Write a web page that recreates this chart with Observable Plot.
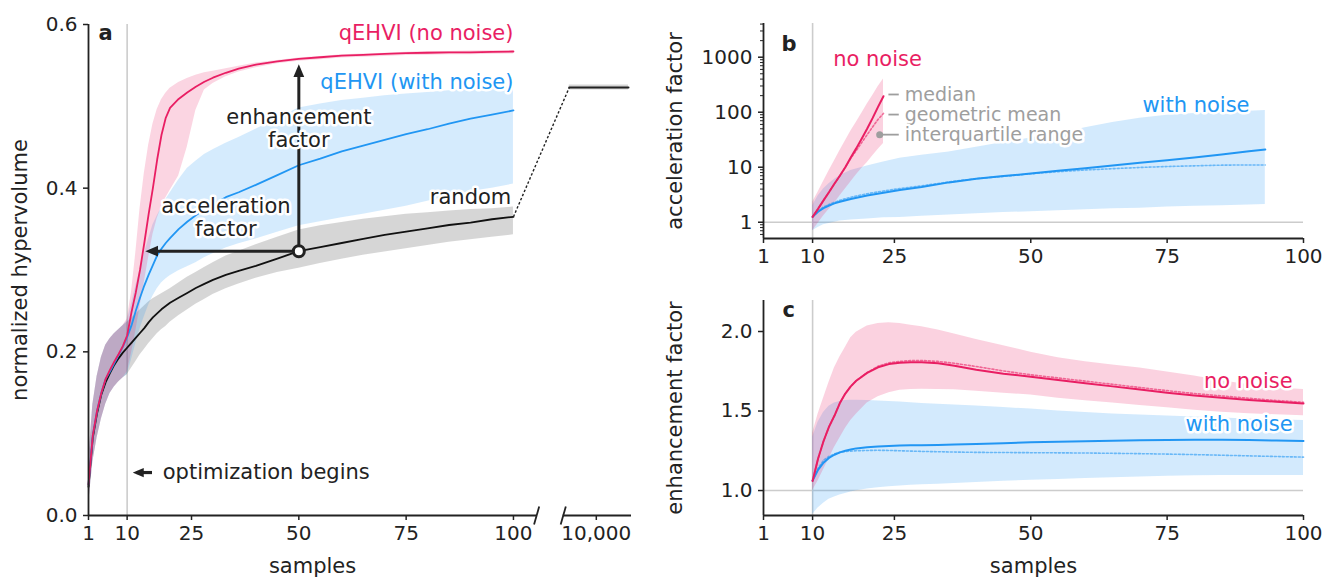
<!DOCTYPE html>
<html><head><meta charset="utf-8">
<script src="https://cdn.jsdelivr.net/npm/d3@7"></script>
<script src="https://cdn.jsdelivr.net/npm/@observablehq/plot@0.6"></script>
<style>
body{margin:0;background:#fff;}
#fig{position:relative;width:1328px;height:578px;overflow:hidden;font-family:"DejaVu Sans",sans-serif;}
</style></head><body><div id="fig"></div>
<script>
// ---------- Panel a data (normalized hypervolume vs samples) ----------
const aSamples = [1,2,3,4,5,6,7,8,9,10,11,12,13,14,15,16,17,18,19,20,22,24,26,28,30,33,36,40,45,50,55,60,65,70,75,80,85,90,95,100];
const randomMed = [0.035,0.095,0.125,0.148,0.163,0.174,0.184,0.192,0.199,0.205,0.211,0.217,0.223,0.229,0.236,0.242,0.247,0.252,0.256,0.260,0.266,0.272,0.278,0.283,0.288,0.294,0.299,0.305,0.314,0.323,0.328,0.333,0.338,0.343,0.347,0.351,0.355,0.358,0.362,0.365];
const randomLo = [0.012,0.065,0.095,0.118,0.136,0.149,0.157,0.163,0.168,0.172,0.180,0.188,0.196,0.203,0.210,0.216,0.222,0.227,0.231,0.236,0.244,0.251,0.258,0.264,0.270,0.277,0.283,0.290,0.297,0.302,0.308,0.313,0.318,0.322,0.326,0.330,0.334,0.337,0.340,0.343];
const randomHi = [0.065,0.135,0.170,0.193,0.208,0.216,0.222,0.227,0.232,0.236,0.241,0.246,0.251,0.256,0.261,0.265,0.268,0.271,0.274,0.277,0.284,0.291,0.297,0.303,0.309,0.317,0.323,0.331,0.340,0.349,0.354,0.358,0.362,0.365,0.368,0.370,0.372,0.374,0.375,0.377];
const noNoiseMed = [0.038,0.098,0.128,0.150,0.167,0.178,0.188,0.197,0.207,0.220,0.248,0.272,0.300,0.333,0.368,0.400,0.435,0.465,0.486,0.498,0.509,0.517,0.524,0.530,0.535,0.541,0.546,0.551,0.555,0.558,0.560,0.562,0.563,0.564,0.565,0.5655,0.566,0.566,0.5665,0.567];
const noNoiseLo = [0.012,0.065,0.095,0.118,0.136,0.149,0.157,0.163,0.168,0.175,0.198,0.225,0.255,0.285,0.315,0.343,0.363,0.377,0.388,0.397,0.415,0.450,0.495,0.520,0.528,0.536,0.542,0.547,0.552,0.555,0.557,0.559,0.560,0.561,0.562,0.5625,0.563,0.563,0.5635,0.564];
const noNoiseHi = [0.065,0.135,0.170,0.193,0.208,0.216,0.222,0.227,0.232,0.240,0.272,0.320,0.375,0.418,0.452,0.478,0.496,0.508,0.516,0.522,0.529,0.534,0.538,0.541,0.543,0.546,0.549,0.553,0.556,0.559,0.561,0.563,0.564,0.565,0.566,0.567,0.567,0.5675,0.568,0.568];
const withNoiseMed = [0.038,0.098,0.128,0.150,0.167,0.176,0.186,0.196,0.206,0.218,0.232,0.250,0.266,0.281,0.294,0.306,0.318,0.326,0.333,0.339,0.350,0.359,0.367,0.374,0.380,0.389,0.395,0.404,0.416,0.428,0.436,0.445,0.452,0.459,0.466,0.472,0.479,0.485,0.490,0.495];
const withNoiseLo = [0.012,0.065,0.095,0.118,0.136,0.149,0.157,0.163,0.168,0.172,0.190,0.210,0.228,0.243,0.257,0.268,0.277,0.284,0.289,0.293,0.299,0.304,0.309,0.315,0.320,0.327,0.332,0.338,0.346,0.354,0.359,0.364,0.368,0.373,0.378,0.384,0.390,0.396,0.400,0.405];
const withNoiseHi = [0.065,0.135,0.170,0.193,0.208,0.216,0.222,0.227,0.232,0.238,0.258,0.280,0.300,0.320,0.338,0.355,0.366,0.376,0.386,0.394,0.410,0.424,0.433,0.441,0.447,0.455,0.462,0.472,0.485,0.498,0.503,0.507,0.510,0.513,0.515,0.517,0.519,0.521,0.522,0.524];
// random search after 10,000 samples
const random10k = {samples: 10000, med: 0.523, lo: 0.520, hi: 0.526};
const aXTicks = [1,10,25,50,75,100];
const aYTicks = [0,0.2,0.4,0.6];

// ---------- Panel b data (acceleration factor) ----------
const bNoSamples = [10,11,12,13,14,15,16,17,18,19,20,21,22,23];
const bNoMed = [1.25,1.75,2.5,3.5,5,7,10,15,22,33,50,78,125,195];
const bNoGeo = [1.25,1.75,2.5,3.5,5,7,10,14.5,20,28,39,54,74,95];
const bNoLo = [0.7,0.95,1.3,1.7,2.2,3,4,5.4,7.2,9.5,12,16,21,27];
const bNoHi = [2.3,3.5,5.5,8.5,13,20,30,45,65,95,140,200,290,400];
const bWithSamples = [10,11,12,13,14,15,17,20,23,26,30,35,40,45,50,55,60,65,70,75,80,85,90,93];
const bWithMed = [1.25,1.55,1.8,2.0,2.2,2.35,2.65,3.05,3.45,3.85,4.35,5.3,6.2,6.9,7.7,8.6,9.6,10.7,12.1,13.4,15,17,19.5,21];
const bWithGeo = [1.25,1.6,1.9,2.1,2.3,2.5,2.85,3.3,3.7,4.1,4.6,5.4,6.2,6.8,7.6,8.3,8.9,9.4,9.9,10.3,10.6,10.9,11,11];
const bWithLo = [0.7,0.8,0.9,0.95,1.0,1.05,1.1,1.15,1.2,1.22,1.28,1.35,1.42,1.5,1.55,1.62,1.68,1.75,1.8,1.9,1.95,2.0,2.05,2.1];
const bWithHi = [2.0,3.0,4.0,5.0,6.0,7.0,8.7,10.5,12.5,14.5,16.5,19,23,28,34,41,52,65,78,88,95,100,104,107];
const bYTicks = [1,10,100,1000];
const bYMinor = [0.6,0.7,0.8,0.9,2,3,4,5,6,7,8,9,20,30,40,50,60,70,80,90,200,300,400,500,600,700,800,900,2000,3000,4000];
const bcXTicks = [1,10,25,50,75,100];
const bLegendLabels = ["median", "geometric mean", "interquartile range"];

// ---------- Panel c data (enhancement factor) ----------
const cSamples = [10,11,12,13,14,15,16,17,18,20,22,24,26,28,30,33,36,40,45,50,55,60,65,70,75,80,85,90,95,100];
const cNoMed = [1.06,1.2,1.31,1.4,1.47,1.55,1.61,1.655,1.69,1.74,1.775,1.795,1.803,1.807,1.806,1.8,1.785,1.76,1.735,1.715,1.695,1.675,1.655,1.636,1.615,1.598,1.584,1.57,1.558,1.547];
const cNoGeo = [1.06,1.2,1.31,1.4,1.47,1.55,1.61,1.655,1.69,1.742,1.782,1.803,1.812,1.817,1.818,1.812,1.8,1.78,1.752,1.728,1.708,1.688,1.668,1.648,1.628,1.61,1.595,1.58,1.566,1.555];
const cNoLo = [1.0,1.06,1.13,1.2,1.27,1.33,1.39,1.44,1.48,1.55,1.59,1.615,1.63,1.635,1.637,1.636,1.633,1.625,1.612,1.6,1.58,1.565,1.55,1.535,1.52,1.505,1.493,1.483,1.476,1.47];
const cNoHi = [1.36,1.48,1.58,1.68,1.77,1.84,1.9,1.96,1.995,2.035,2.05,2.055,2.05,2.04,2.03,2.01,1.985,1.95,1.91,1.87,1.835,1.81,1.79,1.77,1.745,1.72,1.69,1.665,1.645,1.635];
const cWithMed = [1.063,1.13,1.175,1.205,1.225,1.24,1.25,1.258,1.265,1.272,1.277,1.28,1.283,1.284,1.285,1.287,1.289,1.293,1.298,1.303,1.306,1.31,1.313,1.316,1.318,1.319,1.319,1.317,1.314,1.311];
const cWithGeo = [1.063,1.14,1.19,1.215,1.23,1.24,1.245,1.248,1.25,1.252,1.253,1.252,1.25,1.248,1.246,1.244,1.242,1.24,1.239,1.238,1.237,1.236,1.234,1.232,1.229,1.226,1.222,1.218,1.214,1.21];
const cWithLo = [0.85,0.89,0.92,0.945,0.96,0.972,0.982,0.99,0.998,1.01,1.018,1.024,1.029,1.033,1.037,1.04,1.044,1.05,1.058,1.065,1.07,1.076,1.081,1.085,1.09,1.093,1.094,1.095,1.095,1.095];
const cWithHi = [1.335,1.43,1.49,1.53,1.55,1.56,1.566,1.568,1.568,1.566,1.563,1.56,1.556,1.552,1.548,1.543,1.538,1.532,1.522,1.512,1.5,1.49,1.482,1.475,1.468,1.462,1.456,1.45,1.445,1.44];
const cYTicks = [1.0,1.5,2.0];

// ---------- styling ----------
const RED = "#e91e63", BLUE = "#2196f3", DARK = "#222222", REF = "#cccccc", LEG = "#9e9e9e";
const FONT = "'DejaVu Sans', sans-serif";
const TXT = 21, TICKF = 20, LEGF = 19;
const halo = {stroke: "white", strokeWidth: 5, strokeLinejoin: "round"};
const baseStyle = {fontFamily: FONT, fontSize: TXT + "px", color: DARK, background: "transparent", overflow: "visible"};
const axisOpts = {tickSize: 5, strokeWidth: 1.5, fontSize: TICKF, label: null};
const fig = document.getElementById("fig");
function put(svg, left, top) {
  svg.style.position = "absolute";
  svg.style.left = left + "px";
  svg.style.top = top + "px";
  fig.appendChild(svg);
}
const zipRows = (xs, cols) => xs.map((s, i) => {
  const r = {s};
  for (const k in cols) r[k] = cols[k][i];
  return r;
});
function crossing(xs, ys, target) {
  for (let i = 1; i < xs.length; i++) if (ys[i] >= target) {
    const t = (target - ys[i-1]) / (ys[i] - ys[i-1]);
    return xs[i-1] + t * (xs[i] - xs[i-1]);
  }
  return xs[xs.length - 1];
}
// filled triangular arrowhead marker
function triangleHead(size) {
  return (color, context) => {
    const doc = (context && context.document) || document;
    const ns = "http://www.w3.org/2000/svg";
    const m = doc.createElementNS(ns, "marker");
    m.setAttribute("viewBox", "-5 -5 10 10");
    m.setAttribute("markerWidth", size);
    m.setAttribute("markerHeight", size);
    m.setAttribute("markerUnits", "userSpaceOnUse");
    m.setAttribute("orient", "auto");
    m.setAttribute("refX", "1.5");
    m.setAttribute("refY", "0");
    const p = doc.createElementNS(ns, "path");
    p.setAttribute("d", "M-5,-4.2L5,0L-5,4.2Z");
    p.setAttribute("fill", color);
    p.setAttribute("stroke", "none");
    m.appendChild(p);
    return m;
  };
}
function arrowMarks(data, opts, useMarker) {
  if (useMarker) return Plot.link(data, {x1: "x1", y1: "y1", x2: "x2", y2: "y2", stroke: DARK, strokeWidth: opts.w, markerEnd: triangleHead(opts.head)});
  return Plot.arrow(data, {x1: "x1", y1: "y1", x2: "x2", y2: "y2", stroke: DARK, strokeWidth: opts.w, headLength: 8});
}

// ---------- Panel a ----------
function panelA(useMarker) {
  const brk = {seg1End: 105.4, seg2Start: 111.6, seg2End: 127.5, tenK: 119.3};
  const rows = zipRows(aSamples, {rm: randomMed, rl: randomLo, rh: randomHi, nm: noNoiseMed, nl: noNoiseLo, nh: noNoiseHi, wm: withNoiseMed, wl: withNoiseLo, wh: withNoiseHi});
  const tail = [brk.seg2Start + 1.4, brk.seg2End - 0.7].map(x => ({x, med: random10k.med, lo: random10k.lo, hi: random10k.hi}));
  const last = rows[rows.length - 1];
  const i50 = aSamples.indexOf(50);
  const base = {x: 50, y: randomMed[i50]};
  const accelTo = crossing(aSamples, noNoiseMed, base.y) + 1.6;
  const enhTo = noNoiseMed[i50] - 0.012;
  return Plot.plot({
    width: 660, height: 578,
    marginLeft: 88, marginRight: 29, marginTop: 24, marginBottom: 63,
    x: {domain: [1, brk.seg2End], axis: null, label: null},
    y: {domain: [0, 0.6], axis: null, label: null},
    style: baseStyle,
    marks: [
      Plot.ruleX([10], {stroke: REF, strokeWidth: 1.6}),
      Plot.areaY(rows, {x: "s", y1: "rl", y2: "rh", fill: "#000", fillOpacity: 0.16}),
      Plot.areaY(rows, {x: "s", y1: "wl", y2: "wh", fill: BLUE, fillOpacity: 0.19}),
      Plot.areaY(rows, {x: "s", y1: "nl", y2: "nh", fill: RED, fillOpacity: 0.19}),
      Plot.areaY(tail, {x: "x", y1: "lo", y2: "hi", fill: "#000", fillOpacity: 0.16}),
      Plot.line(rows, {x: "s", y: "rm", stroke: "#111", strokeWidth: 1.8}),
      Plot.line(rows, {x: "s", y: "wm", stroke: BLUE, strokeWidth: 1.8}),
      Plot.line(rows, {x: "s", y: "nm", stroke: RED, strokeWidth: 1.8}),
      Plot.line(tail, {x: "x", y: "med", stroke: DARK, strokeWidth: 2}),
      Plot.link([{x1: last.s, y1: last.rm, x2: tail[0].x, y2: tail[0].med}], {x1: "x1", y1: "y1", x2: "x2", y2: "y2", stroke: DARK, strokeWidth: 1.4, strokeDasharray: "2.5,2"}),
      // annotation arrows
      arrowMarks([{x1: base.x, y1: base.y, x2: accelTo, y2: base.y}], {w: 3, head: 13}, useMarker),
      arrowMarks([{x1: base.x, y1: base.y, x2: base.x, y2: enhTo}], {w: 3, head: 13}, useMarker),
      Plot.dot([base], {x: "x", y: "y", r: 5.5, fill: "white", stroke: DARK, strokeWidth: 3}),
      Plot.text([{x: 50, y: 0.4735, t: "enhancement\nfactor"}], {x: "x", y: "y", text: "t", fill: DARK, fontSize: TXT, lineHeight: 1.1, ...halo}),
      Plot.text([{x: 33, y: 0.365, t: "acceleration\nfactor"}], {x: "x", y: "y", text: "t", fill: DARK, fontSize: TXT, lineHeight: 1.1, ...halo}),
      Plot.text([{x: 100, y: 0.589, t: "qEHVI (no noise)"}], {x: "x", y: "y", text: "t", fill: RED, textAnchor: "end", fontSize: TXT, ...halo}),
      Plot.text([{x: 100, y: 0.530, t: "qEHVI (with noise)"}], {x: "x", y: "y", text: "t", fill: BLUE, textAnchor: "end", fontSize: TXT, ...halo}),
      Plot.text([{x: 99.5, y: 0.389, t: "random"}], {x: "x", y: "y", text: "t", fill: DARK, textAnchor: "end", fontSize: TXT, ...halo}),
      // optimization begins
      arrowMarks([{x1: 15.8, y1: 0.0525, x2: 12.2, y2: 0.0525}], {w: 3.2, head: 11}, useMarker),
      Plot.text([{x: 18.3, y: 0.0525, t: "optimization begins"}], {x: "x", y: "y", text: "t", fill: DARK, textAnchor: "start", fontSize: TXT}),
      // panel letter and axis labels
      Plot.text(["a"], {frameAnchor: "top-left", dx: 10, dy: 9, lineAnchor: "middle", textAnchor: "start", fontWeight: "bold", fontSize: TXT, fill: DARK}),
      Plot.text(["normalized hypervolume"], {frameAnchor: "left", dx: -68, rotate: -90, lineAnchor: "middle", textAnchor: "middle", fontSize: TXT, fill: DARK}),
      Plot.text([{x: (1 + brk.seg1End) / 2}], {x: "x", text: () => "samples", frameAnchor: "bottom", dy: 51, lineAnchor: "middle", textAnchor: "middle", fontSize: TXT, fill: DARK}),
      // axes
      Plot.axisX(aXTicks, {...axisOpts, tickPadding: 5}),
      Plot.axisX([brk.tenK], {...axisOpts, tickPadding: 5, tickFormat: () => "10,000"}),
      Plot.axisY(aYTicks, {...axisOpts, tickPadding: 6, tickFormat: d3.format(".1f")}),
      Plot.ruleX([1], {stroke: DARK, strokeWidth: 1.8}),
      Plot.ruleY([0], {x1: 1, x2: brk.seg1End, stroke: DARK, strokeWidth: 1.8}),
      Plot.ruleY([0], {x1: brk.seg2Start, x2: brk.seg2End, stroke: DARK, strokeWidth: 1.8}),
      Plot.link([brk.seg1End, brk.seg2Start], {x1: d => d - 0.6, x2: d => d + 0.6, y1: -0.011, y2: 0.011, stroke: DARK, strokeWidth: 1.8})
    ]
  });
}
let svgA;
try { svgA = panelA(true); } catch (e) { svgA = panelA(false); }
put(svgA, 0, 0);

// ---------- Panel b ----------
{
  const no = zipRows(bNoSamples, {m: bNoMed, g: bNoGeo, lo: bNoLo, hi: bNoHi});
  const wi = zipRows(bWithSamples, {m: bWithMed, g: bWithGeo, lo: bWithLo, hi: bWithHi});
  // legend rows sit next to the end of the no-noise curves, spaced evenly (log units)
  const legend = bLegendLabels.map((t, i) => ({t, y: 210 / Math.pow(10, 0.365 * i), x1: i === 2 ? 22.3 : 23.9, dot: i === 2}));
  const svg = Plot.plot({
    width: 668, height: 290,
    marginLeft: 103, marginRight: 25, marginTop: 23, marginBottom: 52,
    x: {domain: [1, 100], axis: null, label: null},
    y: {type: "log", domain: [0.506, 4100], axis: null, label: null},
    style: baseStyle,
    marks: [
      Plot.ruleX([10], {stroke: REF, strokeWidth: 1.6}),
      Plot.ruleY([1], {stroke: REF, strokeWidth: 1.6}),
      Plot.areaY(wi, {x: "s", y1: "lo", y2: "hi", fill: BLUE, fillOpacity: 0.2}),
      Plot.areaY(no, {x: "s", y1: "lo", y2: "hi", fill: RED, fillOpacity: 0.2}),
      Plot.line(wi, {x: "s", y: "g", stroke: BLUE, strokeWidth: 1.6, strokeOpacity: 0.6, strokeDasharray: "2,2"}),
      Plot.line(no, {x: "s", y: "g", stroke: RED, strokeWidth: 1.6, strokeOpacity: 0.6, strokeDasharray: "2,2"}),
      Plot.line(wi, {x: "s", y: "m", stroke: BLUE, strokeWidth: 2}),
      Plot.line(no, {x: "s", y: "m", stroke: RED, strokeWidth: 2}),
      Plot.link(legend, {x1: "x1", x2: 25.8, y1: "y", y2: "y", stroke: LEG, strokeWidth: 1.8}),
      Plot.dot(legend.filter(d => d.dot), {x: "x1", y: "y", r: 3.5, fill: LEG}),
      Plot.text(legend, {x: 26.9, y: "y", text: "t", fill: LEG, textAnchor: "start", fontSize: LEGF, ...halo}),
      Plot.text([{x: 21.9, y: 900, t: "no noise"}], {x: "x", y: "y", text: "t", fill: RED, fontSize: TXT, ...halo}),
      Plot.text([{x: 90.1, y: 132, t: "with noise"}], {x: "x", y: "y", text: "t", fill: BLUE, textAnchor: "end", fontSize: TXT, ...halo}),
      Plot.text(["b"], {frameAnchor: "top-left", dx: 18, dy: 21, lineAnchor: "middle", textAnchor: "start", fontWeight: "bold", fontSize: TXT, fill: DARK}),
      Plot.text(["acceleration factor"], {frameAnchor: "left", dx: -88, rotate: -90, lineAnchor: "middle", textAnchor: "middle", fontSize: TXT, fill: DARK}),
      Plot.axisX(bcXTicks, {...axisOpts, tickPadding: 5}),
      Plot.axisY(bYTicks, {...axisOpts, tickPadding: 6, tickFormat: d => String(d)}),
      Plot.axisY(bYMinor, {...axisOpts, tickSize: 3, strokeWidth: 1, tickFormat: () => ""}),
      Plot.ruleX([1], {stroke: DARK, strokeWidth: 1.8}),
      Plot.ruleY([0.506], {stroke: DARK, strokeWidth: 1.8})
    ]
  });
  put(svg, 660, 0);
}

// ---------- Panel c ----------
{
  const rows = zipRows(cSamples, {nm: cNoMed, ng: cNoGeo, nl: cNoLo, nh: cNoHi, wm: cWithMed, wg: cWithGeo, wl: cWithLo, wh: cWithHi});
  const svg = Plot.plot({
    width: 668, height: 288,
    marginLeft: 103, marginRight: 25, marginTop: 10, marginBottom: 63,
    x: {domain: [1, 100], axis: null, label: null},
    y: {domain: [0.843, 2.195], axis: null, label: null},
    style: baseStyle,
    marks: [
      Plot.ruleX([10], {stroke: REF, strokeWidth: 1.6}),
      Plot.ruleY([1], {stroke: REF, strokeWidth: 1.6}),
      Plot.areaY(rows, {x: "s", y1: "wl", y2: "wh", fill: BLUE, fillOpacity: 0.2}),
      Plot.areaY(rows, {x: "s", y1: "nl", y2: "nh", fill: RED, fillOpacity: 0.2}),
      Plot.line(rows, {x: "s", y: "wg", stroke: BLUE, strokeWidth: 1.6, strokeOpacity: 0.6, strokeDasharray: "2,2"}),
      Plot.line(rows, {x: "s", y: "ng", stroke: RED, strokeWidth: 1.6, strokeOpacity: 0.6, strokeDasharray: "2,2"}),
      Plot.line(rows, {x: "s", y: "wm", stroke: BLUE, strokeWidth: 2}),
      Plot.line(rows, {x: "s", y: "nm", stroke: RED, strokeWidth: 2}),
      Plot.text([{x: 98, y: 1.69, t: "no noise"}], {x: "x", y: "y", text: "t", fill: RED, textAnchor: "end", fontSize: TXT, ...halo}),
      Plot.text([{x: 98, y: 1.415, t: "with noise"}], {x: "x", y: "y", text: "t", fill: BLUE, textAnchor: "end", fontSize: TXT, ...halo}),
      Plot.text(["c"], {frameAnchor: "top-left", dx: 19, dy: 10, lineAnchor: "middle", textAnchor: "start", fontWeight: "bold", fontSize: TXT, fill: DARK}),
      Plot.text(["enhancement factor"], {frameAnchor: "left", dx: -88, rotate: -90, lineAnchor: "middle", textAnchor: "middle", fontSize: TXT, fill: DARK}),
      Plot.text(["samples"], {frameAnchor: "bottom", dy: 51, lineAnchor: "middle", textAnchor: "middle", fontSize: TXT, fill: DARK}),
      Plot.axisX(bcXTicks, {...axisOpts, tickPadding: 5}),
      Plot.axisY(cYTicks, {...axisOpts, tickPadding: 6, tickFormat: d3.format(".1f")}),
      Plot.ruleX([1], {stroke: DARK, strokeWidth: 1.8}),
      Plot.ruleY([0.843], {stroke: DARK, strokeWidth: 1.8})
    ]
  });
  put(svg, 660, 290);
}
</script></body></html>
